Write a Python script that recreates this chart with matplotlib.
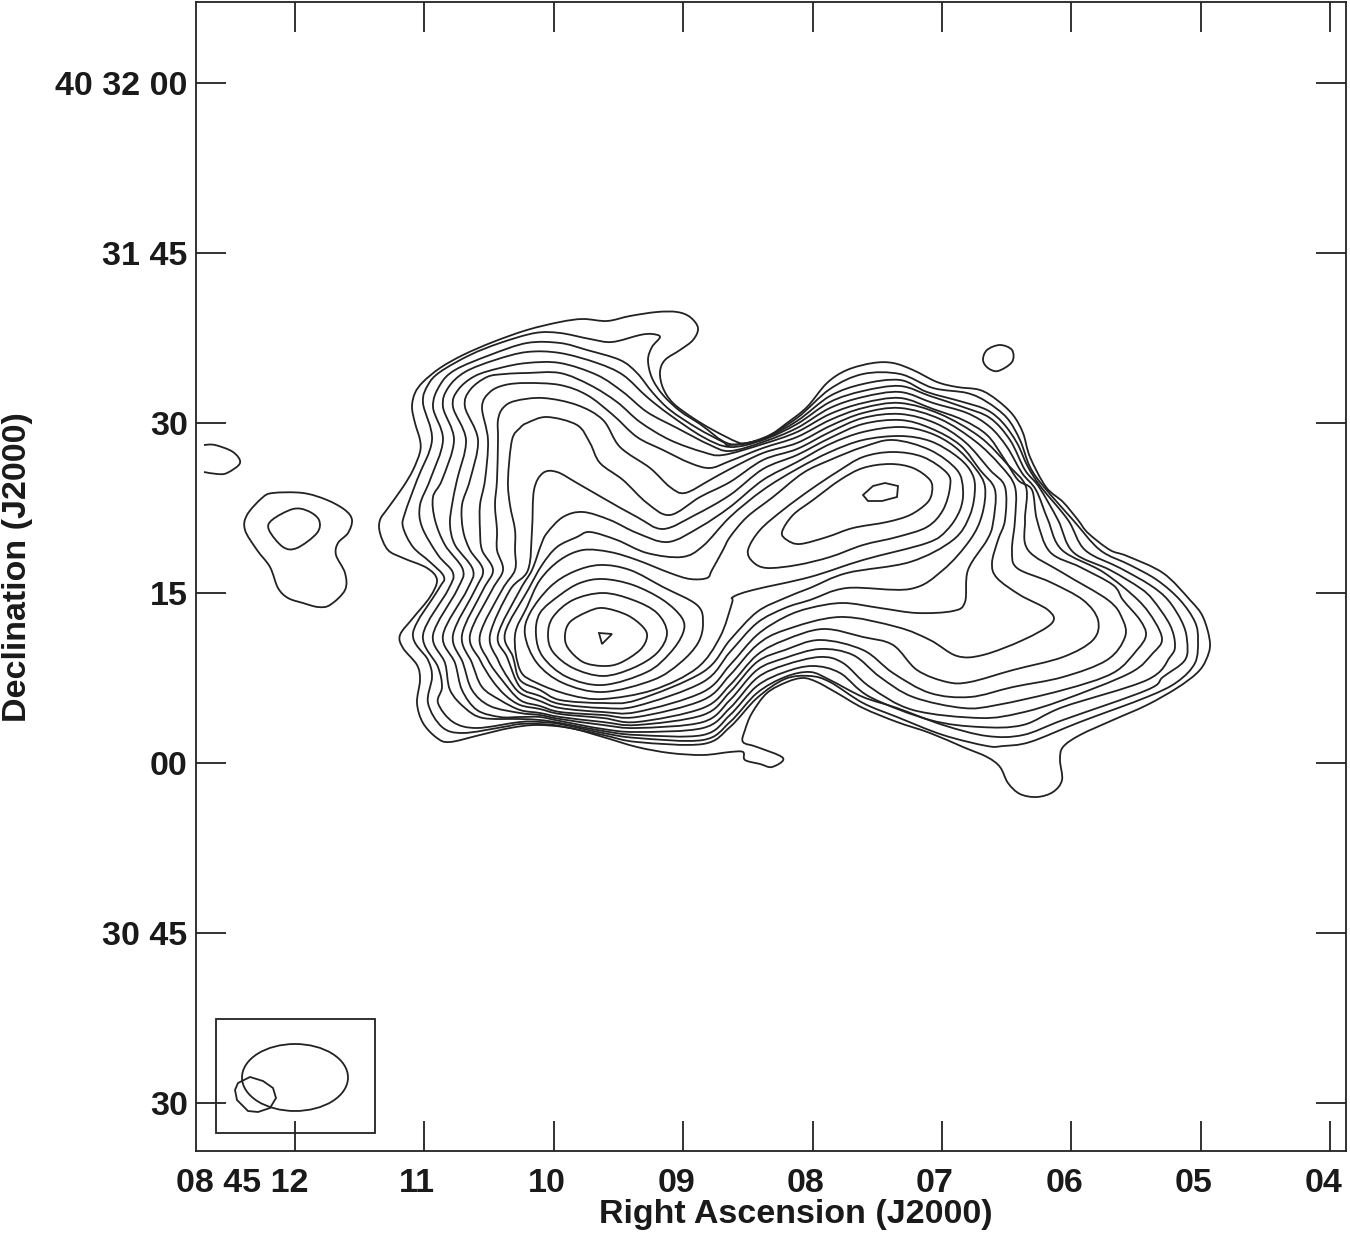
import numpy as np
import matplotlib
matplotlib.use("Agg")
import matplotlib.pyplot as plt
import matplotlib.transforms as mtrans
from matplotlib.path import Path
from matplotlib.patches import PathPatch, Rectangle, Ellipse

plt.rcParams['font.family'] = ['Liberation Sans', 'DejaVu Sans']

# Contours in cells of 1/129.4 s in RA and 15/170 arcsec in Dec,
# converted to sky coordinates by to_sky() below.
c01 = [(400,635),(413,618),(430,597),(437,580),(427,568),(403,558),(388,550),(380,533),(380,520),(388,508),(403,487),(413,470),(420,452),(420,440),(415,423),(412,407),(415,393),(423,382),(440,368),(463,355),(493,342),(527,330),(560,322),(583,319),(607,321),(630,316),(657,312),(677,312),(690,317),(698,328),(693,340),(680,350),(665,360),(660,372),(663,388),(673,403),(693,418),(713,430),(737,442),(747,443),(767,437),(787,423),(807,407),(827,383),(847,370),(873,363),(893,363),(913,370),(937,382),(957,387),(980,390),(997,400),(1013,415),(1023,433),(1030,457),(1046,487),(1063,502),(1078,520),(1088,533),(1110,550),(1127,556),(1163,573),(1190,600),(1203,617),(1210,643),(1206,660),(1197,673),(1177,688),(1147,705),(1113,720),(1080,735),(1063,747),(1060,760),(1062,780),(1053,792),(1037,797),(1020,794),(1008,783),(1000,767),(987,757),(963,747),(930,733),(897,722),(863,708),(837,693),(817,682),(803,678),(787,682),(767,693),(752,713),(745,730),(743,742),(757,747),(783,758),(772,767),(760,764),(745,760),(743,752),(730,752),(703,755),(670,753),(637,747),(603,737),(570,728),(537,725),(510,728),(480,735),(450,742),(437,738),(423,723),(417,703),(420,680),(417,665),(403,648)]
c02 = [(413,633),(438,590),(444,577),(430,562),(413,547),(403,527),(405,513),(417,480),(432,440),(423,403),(428,385),(440,372),(470,355),(500,343),(535,333),(560,333),(590,339),(612,342),(640,335),(652,334),(660,337),(652,347),(648,360),(652,378),(663,395),(680,411),(700,424),(730,444),(763,438),(797,418),(830,389),(863,374),(900,374),(933,388),(967,393),(987,402),(1007,418),(1020,440),(1030,467),(1044,487),(1073,520),(1100,550),(1130,565),(1157,580),(1180,600),(1195,622),(1198,640),(1195,663),(1177,682),(1147,697),(1080,722),(1030,742),(1003,746),(987,746),(943,735),(897,717),(863,703),(830,682),(810,676),(785,679),(757,698),(730,727),(703,744),(637,742),(603,735),(560,726),(540,724),(520,724),(503,727),(463,733),(442,727),(428,703),(432,677),(428,660)]
c03 = [(423,635),(448,590),(453,573),(438,555),(422,527),(420,505),(430,480),(443,440),(433,407),(440,385),(455,370),(490,355),(527,343),(560,343),(587,350),(620,360),(637,373),(653,393),(670,410),(697,428),(723,442),(730,445),(763,439),(797,421),(830,396),(863,384),(900,380),(927,392),(963,402),(987,410),(1003,423),(1017,443),(1028,467),(1041,487),(1068,520),(1085,550),(1120,568),(1150,585),(1168,600),(1182,622),(1187,640),(1185,660),(1163,677),(1147,690),(1063,720),(1023,735),(987,736),(943,725),(897,708),(863,697),(830,680),(810,672),(785,677),(757,693),(730,722),(703,740),(637,738),(603,733),(560,724),(540,722),(520,722),(477,728),(453,722),(438,703),(442,687),(438,667)]
c04 = [(433,635),(457,590),(463,570),(445,545),(435,520),(433,497),(442,480),(454,440),(443,407),(448,388),(465,372),(495,360),(527,352),(560,353),(597,363),(623,375),(647,397),(670,415),(703,437),(730,447),(763,440),(797,424),(830,402),(863,391),(900,386),(930,396),(963,407),(990,418),(1010,440),(1025,470),(1039,487),(1058,520),(1073,552),(1110,570),(1140,588),(1153,600),(1170,625),(1175,645),(1170,657),(1147,680),(1063,707),(1023,725),(980,727),(930,720),(870,697),(840,673),(813,666),(785,672),(757,686),(730,715),(703,735),(637,735),(603,731),(560,723),(540,720),(520,719),(483,718),(465,708),(450,690),(445,663)]
c05 = [(443,635),(467,590),(473,570),(455,545),(450,525),(452,505),(457,480),(466,440),(453,407),(458,390),(475,376),(500,368),(527,363),(560,363),(597,375),(623,392),(647,412),(677,428),(710,445),(730,451),(763,442),(797,428),(830,408),(863,397),(900,392),(933,403),(967,413),(990,427),(1007,447),(1022,473),(1036,490),(1048,520),(1062,550),(1103,572),(1138,600),(1155,622),(1162,640),(1153,653),(1130,673),(1063,700),(1020,713),(980,718),(913,710),(870,687),(843,663),(820,657),(785,665),(757,678),(730,708),(703,728),(637,732),(603,729),(560,721),(540,717),(520,717),(500,717),(477,710),(462,690),(455,663)]
c06 = [(453,635),(475,590),(483,570),(470,550),(463,530),(462,505),(470,480),(478,440),(465,407),(470,390),(487,377),(505,374),(527,373),(560,373),(590,385),(617,402),(640,422),(670,440),(703,452),(723,455),(763,444),(797,432),(830,414),(863,403),(900,398),(933,409),(963,420),(987,435),(1003,457),(1018,480),(1032,490),(1037,520),(1050,552),(1080,567),(1113,585),(1123,600),(1140,620),(1146,635),(1137,650),(1113,673),(1063,690),(997,705),(963,708),(913,697),(880,677),(853,655),(820,649),(785,658),(757,670),(730,700),(703,722),(637,728),(603,725),(560,719),(540,715),(520,713),(490,706),(472,690),(463,663)]
c07 = [(462,635),(483,590),(493,570),(482,550),(480,530),(480,505),(485,480),(488,440),(482,407),(490,392),(505,385),(527,383),(560,385),(587,395),(613,415),(637,437),(663,450),(690,463),(710,468),(730,461),(763,448),(797,437),(830,420),(863,408),(900,403),(940,414),(980,437),(1008,465),(1026,487),(1025,520),(1028,550),(1063,573),(1108,600),(1122,618),(1125,637),(1107,660),(1063,677),(1013,687),(970,697),(930,693),(893,673),(863,650),(820,640),(785,650),(757,662),(730,692),(703,715),(637,725),(603,722),(560,717),(540,713),(520,710),(500,700),(482,687),(472,663)]
c08 = [(470,635),(492,590),(503,570),(497,550),(497,530),(495,505),(497,480),(498,440),(498,420),(503,408),(515,401),(543,398),(577,405),(603,420),(620,447),(650,468),(670,487),(685,493),(710,480),(730,469),(763,453),(797,443),(830,426),(863,413),(900,408),(940,419),(975,441),(1000,465),(1015,487),(1015,520),(1012,550),(1017,568),(1050,582),(1083,600),(1098,620),(1093,640),(1063,657),(1013,670),(970,682),(947,682),(917,670),(893,645),(863,637),(823,629),(785,640),(757,655),(730,685),(703,708),(637,722),(603,718),(560,714),(540,709),(520,705),(505,695),(492,680),(480,660)]
c09 = [(480,635),(502,590),(515,570),(515,550),(515,530),(510,505),(508,480),(512,440),(520,428),(527,423),(547,417),(577,425),(590,443),(600,463),(623,480),(647,503),(670,515),(700,497),(730,482),(763,460),(797,449),(830,432),(863,418),(900,414),(935,423),(965,442),(990,470),(1005,487),(1005,520),(998,540),(992,563),(997,578),(1020,595),(1048,610),(1052,623),(1023,640),(983,655),(957,656),(930,640),(897,627),(840,617),(785,630),(757,645),(730,675),(703,700),(637,717),(603,715),(560,712),(540,706),(520,700),(502,680),(488,660)]
c10 = [(490,635),(510,590),(528,570),(532,530),(534,490),(543,473),(557,472),(577,483),(603,498),(637,517),(663,529),(695,515),(730,495),(763,469),(797,455),(830,438),(863,424),(900,420),(930,428),(960,445),(980,470),(995,490),(993,523),(987,540),(968,570),(965,602),(953,611),(917,613),(880,608),(843,603),(810,608),(785,617),(757,635),(730,665),(703,692),(637,712),(603,712),(560,708),(540,701),(520,693),(508,678),(498,660)]
c11 = [(498,635),(520,590),(532,570),(541,545),(547,533),(563,517),(583,512),(610,520),(637,533),(668,542),(700,527),(730,507),(763,480),(797,462),(830,444),(863,432),(900,427),(930,433),(955,447),(975,468),(985,487),(982,515),(970,540),(943,570),(910,589),(847,588),(810,600),(785,608),(757,623),(730,652),(703,682),(637,706),(603,708),(560,704),(540,696),(520,687),(507,657)]
c12 = [(505,633),(528,590),(542,565),(557,547),(577,537),(590,532),(617,540),(647,553),(682,557),(703,546),(730,517),(763,490),(797,469),(830,452),(863,440),(900,436),(930,441),(955,455),(970,470),(975,487),(970,515),(953,540),(910,562),(847,573),(810,588),(785,598),(757,612),(730,640),(703,672),(637,700),(603,703),(560,700),(540,690),(520,680),(513,657)]
c13 = [(515,635),(527,607),(540,580),(560,560),(583,550),(610,552),(637,560),(670,573),(690,579),(707,578),(712,570),(723,550),(730,537),(747,517),(773,497),(803,473),(830,460),(863,447),(893,440),(930,450),(957,470),(963,490),(960,510),(947,530),(927,543),(863,560),(810,577),(753,590),(733,597),(732,603),(720,637),(697,668),(653,690),(603,699),(570,695),(537,683),(520,670)]

# right peak
r1 = [(748,550),(760,530),(783,510),(810,490),(837,472),(863,457),(893,452),(923,457),(947,473),(950,487),(943,510),(927,527),(897,537),(863,545),(830,557),(797,565),(767,568),(753,562)]
r2 = [(782,532),(793,515),(813,500),(840,480),(863,468),(890,464),(913,468),(930,480),(932,492),(927,503),(910,515),(887,522),(853,528),(827,537),(800,544),(787,540)]
r3 = [(863,495),(873,486),(885,483),(898,486),(897,497),(882,501),(868,501)]

# left peak
l1 = [(525,635),(530,613),(550,587),(573,572),(600,565),(630,570),(663,587),(697,605),(703,623),(698,643),(680,663),(653,680),(603,692),(563,683),(537,663)]
l2 = [(536,635),(540,613),(560,595),(580,583),(603,579),(633,585),(663,600),(682,618),(683,633),(670,653),(647,672),(603,685),(567,677),(543,657)]
l3 = [(548,635),(553,617),(573,600),(603,593),(633,600),(657,613),(667,633),(657,653),(633,668),(603,676),(573,668),(553,652)]
l4 = [(565,635),(570,622),(587,612),(603,608),(627,615),(643,627),(647,637),(640,650),(620,663),(603,666),(583,662),(568,648)]
l5 = [(599,633),(612,634),(602,644)]

# small islands
blob = [(983,360),(987,350),(1000,345),(1012,350),(1012,362),(998,371),(988,368)]
arc = [(204,445),(215,445),(233,452),(240,463),(227,473),(217,474),(204,472)]
isl1 = [(245,530),(247,515),(262,498),(273,493),(303,493),(327,500),(345,510),(352,520),(348,533),(338,543),(336,555),(345,573),(345,590),(330,605),(318,607),(303,603),(288,598),(278,588),(270,567),(257,550)]
isl2 = [(269,530),(272,520),(293,509),(308,511),(319,520),(317,533),(297,548),(283,547)]

# beam inset
beam_box = [(216,1019),(375,1133)]
beam_centre = (295,1077.5)
beam_size = (106,67)
beam_blob = [(235,1090),(238,1083),(250,1077),(263,1081),(273,1088),(276,1098),(270,1108),(258,1112),(248,1111),(237,1100)]

main_contours = [c01,c02,c03,c04,c05,c06,c07,c08,c09,c10,c11,c12,c13,r1,r2,l1,l2,l3,l4,blob,isl1,isl2]
corner_contours = [r3,l5,beam_blob]

ra_ticks = [12,11,10,9,8,7,6,5,4]
ra_labels = ['08 45 12','11','10','09','08','07','06','05','04']
dec_ticks = [60,45,30,15,0,-15,-30]
dec_labels = ['40 32 00','31 45','30','15','00','30 45','30']

def to_sky(cells):
    cells = np.asarray(cells, dtype=float)
    return 12 - (cells[:,0] - 295) / 129.4, (763 - cells[:,1]) * 15 / 170

def smooth_path(ra, dec, closed=True):
    # catmull-rom through the read points, just so the lines are drawn round
    p = np.column_stack([ra, dec])
    if closed:
        p = np.vstack([p[-1], p, p[0], p[1]])
    else:
        p = np.vstack([p[0], p, p[-1]])
    verts = [p[1]]
    codes = [Path.MOVETO]
    for i in range(1, len(p) - 2):
        verts += [p[i] + (p[i+1] - p[i-1]) / 6, p[i+1] - (p[i+2] - p[i]) / 6, p[i+1]]
        codes += [Path.CURVE4] * 3
    return Path(verts, codes)

fig = plt.figure(figsize=(13.5, 12.35), dpi=100)
ax = fig.add_axes([196/1350, (1235-1151)/1235, 1150/1350, 1149/1235])
ink = '#222222'
lw = 1.3

for c in main_contours:
    ra, dec = to_sky(c)
    ax.add_patch(PathPatch(smooth_path(ra, dec), fill=False, edgecolor=ink, lw=lw))

ra, dec = to_sky(arc)
ax.add_patch(PathPatch(smooth_path(ra, dec, closed=False), fill=False, edgecolor=ink, lw=lw))

# these few are small polygons in the original, keep them straight edged
for c in corner_contours:
    ra, dec = to_sky(c)
    ax.fill(ra, dec, fill=False, edgecolor=ink, lw=lw)

box_ra, box_dec = to_sky(beam_box)
ax.add_patch(Rectangle((box_ra[0], box_dec[0]), box_ra[1] - box_ra[0], box_dec[1] - box_dec[0],
                       fill=False, edgecolor=ink, lw=1.3))
cra, cdec = to_sky([beam_centre])
ax.add_patch(Ellipse((cra[0], cdec[0]), beam_size[0] / 129.4, beam_size[1] * 15 / 170,
                     fill=False, edgecolor=ink, lw=lw))

ax.set_xlim(12 + 99 / 129.4, 12 - 1051 / 129.4)
ax.set_ylim((763 - 1151) * 15 / 170, (763 - 2) * 15 / 170)

ax.set_xticks(ra_ticks)
ax.set_xticklabels(ra_labels, fontsize=24.5, fontweight='bold', color='#1a1a1a')
ax.set_yticks(dec_ticks)
ax.set_yticklabels(dec_labels, fontsize=24.5, fontweight='bold', color='#1a1a1a')
ax.tick_params(axis='both', which='major', direction='in', length=21.5, width=1.3,
               top=True, right=True, color=ink)
ax.tick_params(axis='x', pad=12)
ax.tick_params(axis='y', pad=6)
for side in ax.spines.values():
    side.set_linewidth(1.3)
    side.set_color(ink)

# the x labels sit a little left of their ticks
nudge = mtrans.ScaledTranslation(-7 / 100, 0, fig.dpi_scale_trans)
for lab in ax.get_xticklabels():
    lab.set_transform(lab.get_transform() + nudge)
first = ax.get_xticklabels()[0]
first.set_ha('right')
first.set_transform(first.get_transform() + mtrans.ScaledTranslation(20 / 100, 0, fig.dpi_scale_trans))

ax.set_xlabel('Right Ascension (J2000)', fontsize=24.5, fontweight='bold', color='#1a1a1a')
ax.set_ylabel('Declination (J2000)', fontsize=24.5, fontweight='bold', color='#1a1a1a')
ax.xaxis.set_label_coords((796 - 196) / 1150, -(1199 - 1151) / 1149)
ax.yaxis.set_label_coords(-(196 - 33) / 1150, (1151 - 567) / 1149)

fig.savefig('out.png', dpi=100)
